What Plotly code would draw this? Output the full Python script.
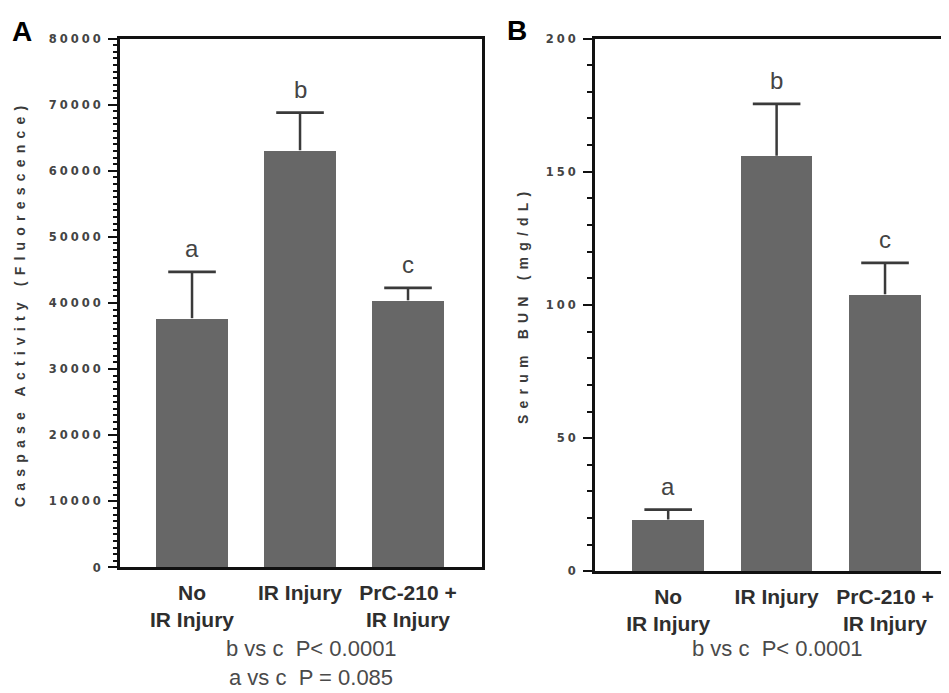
import plotly.graph_objects as go

categories = ["No<br>IR Injury", "IR Injury", "PrC-210 +<br>IR Injury"]
sig_letters = ["a", "b", "c"]

caspase_mean = [37700, 63100, 40400]
caspase_upper = [44700, 68800, 42300]

bun_mean = [19.5, 156, 104]
bun_upper = [23.2, 175.5, 115.8]

caspase_ticks = [0, 10000, 20000, 30000, 40000, 50000, 60000, 70000, 80000]
bun_ticks = [0, 50, 100, 150, 200]

stats_a = ["b vs c  P< 0.0001", "a vs c  P = 0.085"]
stats_b = ["b vs c  P< 0.0001"]

BAR = "#676767"
ERR = "#3a3a3a"
AX = "#111111"

# page body has an 8px margin; figure sized to fit the 949x693 window
OFF = 8
W, H = 949 - OFF, 693 - OFF


def px_x(v):
    return (v - OFF) / W


def px_y(v):
    return 1 - (v - OFF) / H


fig = go.Figure()

xs = list(range(len(categories)))


def add_panel(means, uppers, xa, ya):
    fig.add_trace(go.Bar(
        x=xs, y=means, width=0.66, marker=dict(color=BAR, line=dict(width=0)),
        xaxis=xa, yaxis=ya, showlegend=False, hoverinfo="skip"))
    # error bar stems (upper only), built from the data arrays
    sx, sy = [], []
    for i, m, u in zip(xs, means, uppers):
        sx += [i, i, None]
        sy += [m, u, None]
    fig.add_trace(go.Scatter(
        x=sx, y=sy, mode="lines", line=dict(color=ERR, width=2.5),
        xaxis=xa, yaxis=ya, showlegend=False, hoverinfo="skip"))
    # caps
    fig.add_trace(go.Scatter(
        x=xs, y=uppers, mode="markers",
        marker=dict(symbol="line-ew", size=34, color=ERR,
                    line=dict(color=ERR, width=2.8)),
        xaxis=xa, yaxis=ya, showlegend=False, hoverinfo="skip", cliponaxis=False))


add_panel(caspase_mean, caspase_upper, "x", "y")
add_panel(bun_mean, bun_upper, "x2", "y2")

tickfont = dict(family="DejaVu Sans", size=11.5, color="#444444", weight="bold")
catfont = dict(family="Arial", size=21, color="#2e2e2e", weight="bold")


def spaced(t, s=2):
    return f"<span style='letter-spacing:{s}px'>{t}</span>"


common_x = dict(showline=True, linecolor=AX, linewidth=3, mirror=True, ticks="",
                tickmode="array", tickvals=xs, ticktext=categories, tickfont=catfont,
                showgrid=False, zeroline=False, fixedrange=True, ticklabelstandoff=4)

fig.update_layout(
    width=W, height=H,
    margin=dict(l=0, r=0, t=0, b=0),
    paper_bgcolor="white", plot_bgcolor="white",
    bargap=0,
    xaxis=dict(domain=[px_x(120), px_x(482)], range=[-0.667, 2.685], anchor="y", **common_x),
    yaxis=dict(domain=[px_y(572), px_y(32)], range=[0, 80000], anchor="x",
               showline=True, linecolor=AX, linewidth=3, mirror=True,
               ticks="outside", ticklen=9, tickwidth=2, tickcolor=AX,
               tickmode="array", tickvals=caspase_ticks,
               ticktext=[spaced(str(t), 3) for t in caspase_ticks],
               tickfont=tickfont, showgrid=False, zeroline=False, ticklabelstandoff=2,
               minor=dict(ticks="outside", ticklen=4, tickwidth=2, tickcolor=AX, dtick=1000)),
    xaxis2=dict(domain=[px_x(595), 1.0], range=[-0.675, 2.59], anchor="y2", **common_x),
    yaxis2=dict(domain=[px_y(576), px_y(32)], range=[0, 200], anchor="x2",
                showline=True, linecolor=AX, linewidth=3, mirror=False,
                ticks="outside", ticklen=9, tickwidth=2, tickcolor=AX,
                tickmode="array", tickvals=bun_ticks,
                ticktext=[spaced(str(t), 3) for t in bun_ticks],
                tickfont=tickfont, showgrid=False, zeroline=False, ticklabelstandoff=2,
                minor=dict(ticks="outside", ticklen=5, tickwidth=2, tickcolor=AX, dtick=10)),
)

ann = []
# panel letters
ann.append(dict(text="<b>A</b>", x=px_x(22), y=px_y(25), xref="paper", yref="paper",
                xanchor="center", yanchor="middle",
                showarrow=False, font=dict(family="Arial", size=28, color="black")))
ann.append(dict(text="<b>B</b>", x=px_x(517), y=px_y(24), xref="paper", yref="paper",
                xanchor="center", yanchor="middle",
                showarrow=False, font=dict(family="Arial", size=28, color="black")))
# axis titles
ann.append(dict(text=spaced("Caspase Activity (Fluorescence)", 6.2), textangle=-90,
                x=px_x(20), y=px_y(303), xref="paper", yref="paper", showarrow=False,
                xanchor="center", yanchor="middle",
                font=dict(family="Arial", size=14, color="#3a3a3a", weight="bold")))
ann.append(dict(text=spaced("Serum BUN (mg/dL)", 6.2), textangle=-90,
                x=px_x(523), y=px_y(304), xref="paper", yref="paper", showarrow=False,
                xanchor="center", yanchor="middle",
                font=dict(family="Arial", size=14, color="#3a3a3a", weight="bold")))
# significance letters
for i, (l, u) in enumerate(zip(sig_letters, caspase_upper)):
    ann.append(dict(text=l, x=i, y=u, xref="x", yref="y", yanchor="bottom", yshift=8,
                    xanchor="center",
                    showarrow=False, font=dict(family="Arial", size=24, color="#444444")))
for i, (l, u) in enumerate(zip(sig_letters, bun_upper)):
    ann.append(dict(text=l, x=i, y=u, xref="x2", yref="y2", yanchor="bottom", yshift=8,
                    xanchor="center",
                    showarrow=False, font=dict(family="Arial", size=24, color="#444444")))
# stats text
for k, s in enumerate(stats_a):
    ann.append(dict(text=s, x=px_x(311), y=px_y(655 + 29 * k), xref="paper", yref="paper",
                    xanchor="center", yanchor="middle",
                    showarrow=False, font=dict(family="Arial", size=22, color="#4a4a4a")))
for k, s in enumerate(stats_b):
    ann.append(dict(text=s, x=px_x(777), y=px_y(655 + 29 * k), xref="paper", yref="paper",
                    xanchor="center", yanchor="middle",
                    showarrow=False, font=dict(family="Arial", size=22, color="#4a4a4a")))

fig.update_layout(annotations=ann)

fig.write_html("out.html")
